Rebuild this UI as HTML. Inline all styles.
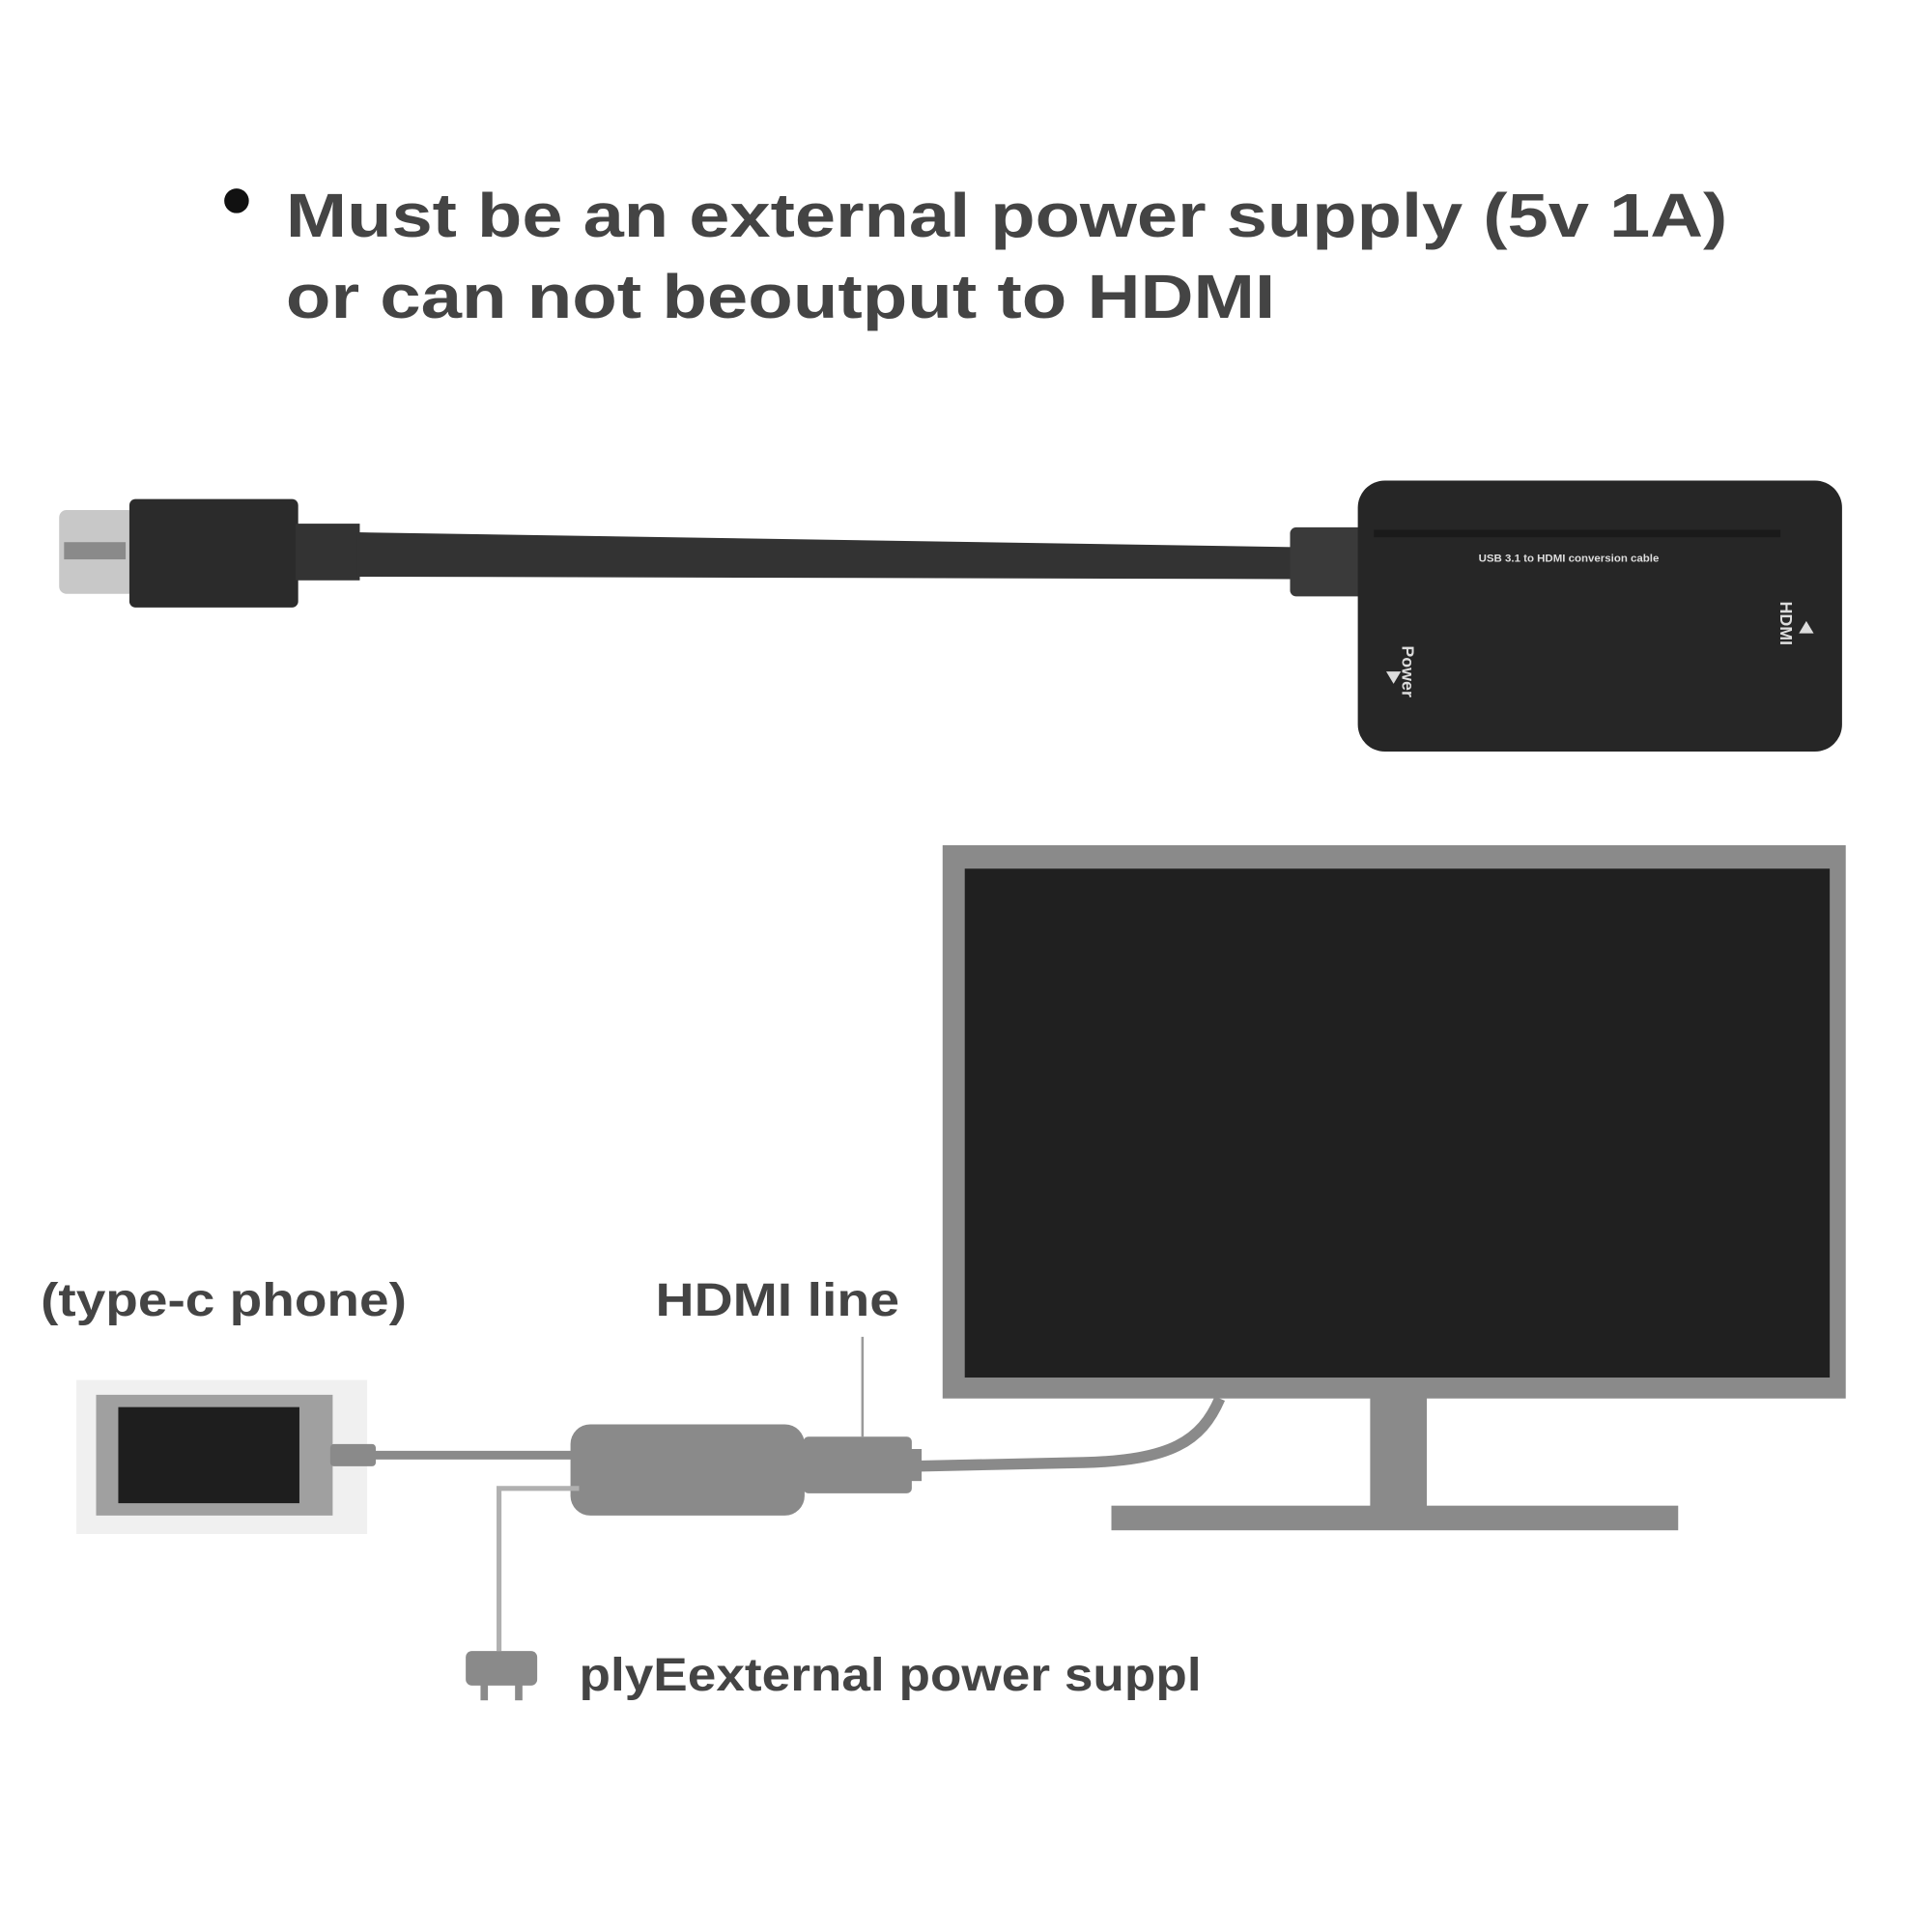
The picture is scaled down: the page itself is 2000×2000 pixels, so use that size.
<!DOCTYPE html>
<html><head><meta charset="utf-8"><style>html,body{margin:0;padding:0;background:#fff}svg{display:block}</style></head>
<body>
<svg width="2000" height="2000" viewBox="0 0 1568 1568" xmlns="http://www.w3.org/2000/svg">
<rect width="1568" height="1568" fill="#fff"/>
<circle cx="192" cy="163" r="10" fill="#111"/>
<g font-family="Liberation Sans, sans-serif" font-weight="bold" fill="#444">
<text x="232" y="192" font-size="50" textLength="1170" lengthAdjust="spacingAndGlyphs">Must be an external power supply (5v 1A)</text>
<text x="232" y="258" font-size="50" textLength="803" lengthAdjust="spacingAndGlyphs">or can not beoutput to HDMI</text>
<text x="33" y="1068" font-size="38" textLength="297" lengthAdjust="spacingAndGlyphs">(type-c phone)</text>
<text x="532" y="1068" font-size="38" textLength="198" lengthAdjust="spacingAndGlyphs">HDMI line</text>
<text x="470" y="1372" font-size="38" textLength="505" lengthAdjust="spacingAndGlyphs">plyEexternal power suppl</text>
</g>
<rect x="48" y="414" width="62" height="68" rx="6" fill="#c8c8c8"/>
<rect x="52" y="440" width="50" height="14" fill="#8a8a8a"/>
<rect x="105" y="405" width="137" height="88" rx="5" fill="#2b2b2b"/>
<rect x="240" y="425" width="52" height="46" fill="#333"/>
<path d="M290 432 L1050 444 L1050 470 L290 468 Z" fill="#333"/>
<rect x="1047" y="428" width="60" height="56" rx="5" fill="#3a3a3a"/>
<rect x="1102" y="390" width="393" height="220" rx="22" fill="#262626"/>
<rect x="1115" y="430" width="330" height="6" fill="#1a1a1a"/>
<g fill="#ddd" font-family="Liberation Sans, sans-serif" font-size="9" font-weight="bold">
<text x="1200" y="456">USB 3.1 to HDMI conversion cable</text>
<text x="1445" y="488" transform="rotate(90 1445 488)" font-size="14">HDMI</text>
<text x="1138" y="524" transform="rotate(90 1138 524)" font-size="14">Power</text>
</g>
<path d="M1466 504 l6 10 l-12 0z" fill="#ddd"/>
<path d="M1125 545 l12 0 l-6 10z" fill="#ddd"/>
<rect x="765" y="686" width="733" height="449" fill="#8a8a8a"/>
<rect x="783" y="705" width="702" height="413" fill="#202020"/>
<rect x="1112" y="1134" width="46" height="92" fill="#8a8a8a"/>
<rect x="902" y="1222" width="460" height="20" fill="#8a8a8a"/>
<path d="M990 1135 C975 1170 950 1185 880 1187 L740 1190" fill="none" stroke="#8a8a8a" stroke-width="9"/>
<rect x="62" y="1120" width="236" height="125" fill="#f0f0f0"/>
<rect x="78" y="1132" width="192" height="98" fill="#a0a0a0"/>
<rect x="96" y="1142" width="147" height="78" fill="#1e1e1e"/>
<rect x="268" y="1172" width="37" height="18" rx="3" fill="#8a8a8a"/>
<line x1="300" y1="1181" x2="472" y2="1181" stroke="#8a8a8a" stroke-width="7"/>
<rect x="463" y="1156" width="190" height="74" rx="16" fill="#8a8a8a"/>
<rect x="652" y="1166" width="88" height="46" rx="4" fill="#8a8a8a"/>
<rect x="738" y="1176" width="10" height="26" fill="#8a8a8a"/>
<line x1="700" y1="1085" x2="700" y2="1166" stroke="#9a9a9a" stroke-width="2"/>
<path d="M470 1208 L405 1208 L405 1340" fill="none" stroke="#b0b0b0" stroke-width="4"/>
<rect x="378" y="1340" width="58" height="28" rx="5" fill="#8a8a8a"/>
<rect x="390" y="1366" width="6" height="14" fill="#8a8a8a"/>
<rect x="418" y="1366" width="6" height="14" fill="#8a8a8a"/>
</svg>
</body></html>
